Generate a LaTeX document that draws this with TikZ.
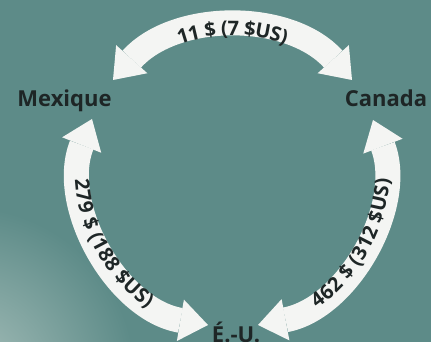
\documentclass[tikz,border=0pt]{standalone}
\usepackage{fontspec}
\setmainfont{Open Sans}
\usepackage{xcolor}
\usetikzlibrary{arrows.meta,positioning,decorations.text}

\definecolor{bgteal}{RGB}{93,139,136}
\definecolor{bglight}{RGB}{168,192,187}
\definecolor{flowwhite}{RGB}{244,245,243}
\definecolor{labeldark}{RGB}{30,38,38}

\begin{document}
\begin{tikzpicture}[x=1pt,y=1pt,
    country/.style={font=\fontsize{22}{26}\selectfont\bfseries, text=labeldark, inner sep=0pt, anchor=base},
    flow/.style={draw=flowwhite, line width=25pt, {Triangle[width=42pt,length=28pt,line width=0pt]}-{Triangle[width=42pt,length=28pt,line width=0pt]}},
    amount/.style={decorate, decoration={text along path, text align=center, raise=-7.5pt, text color=labeldark}}]
\useasboundingbox (0,0) rectangle (431,342);
\clip (0,0) rectangle (431,342);

% background
\fill[bgteal] (0,0) rectangle (431,342);
\shade[inner color=bglight, outer color=bgteal] (-35,-35) circle (170);

% countries
\node[country] (mexique) at (64.5,235) {Mexique};
\node[country] (canada) at (386,235) {Canada};
\node[country] (eu) at (236,-1) {É.-U.};

% arrow ends
\coordinate (mex-top) at (113,262);
\coordinate (can-top) at (352,262);
\coordinate (mex-low) at (92,223);
\coordinate (eu-left) at (208,17);
\coordinate (eu-right) at (258,17);
\coordinate (can-low) at (373,222);

% flows
\draw[flow] (mex-top) to[bend left=48] (can-top);
\draw[flow] (mex-low) to[bend right=51] (eu-left);
\draw[flow] (eu-right) to[bend right=50] (can-low);

% amounts
\path[amount, decoration={text={|\fontsize{20}{24}\selectfont\bfseries|11 {\$} (7 {\$}US)}}]
    (mex-top) to[bend left=48] (can-top);
\path[amount, decoration={text={|\fontsize{20}{24}\selectfont\bfseries|279 {\$} (188 {\$}US)}}]
    (mex-low) to[bend right=51] (eu-left);
\path[amount, decoration={text={|\fontsize{20}{24}\selectfont\bfseries|462 {\$} (312 {\$}US)}}]
    (eu-right) to[bend right=50] (can-low);
\end{tikzpicture}
\end{document}
